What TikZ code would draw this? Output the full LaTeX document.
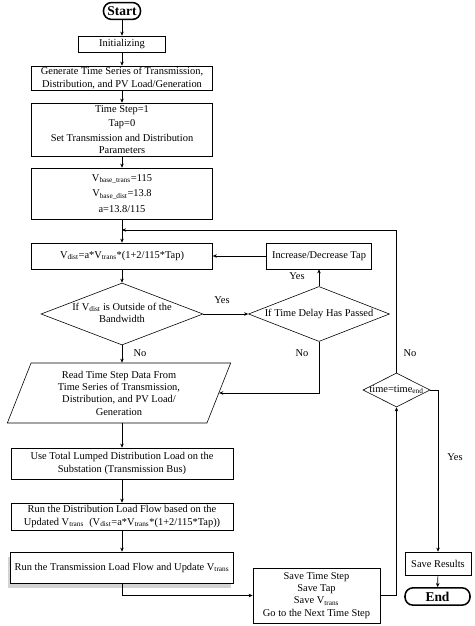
\documentclass[tikz,border=0pt]{standalone}
\usepackage{fontspec}
\setmainfont{Liberation Serif}
\usetikzlibrary{arrows.meta,shapes.geometric,shadows}

\tikzset{
  box/.style={draw,rectangle,align=center,inner sep=1pt},
  term/.style={draw,rectangle,rounded corners=0.24cm,line width=1.3pt,
    font=\fontsize{11.5}{13}\selectfont\bfseries},
  decide/.style={draw,diamond,inner sep=0pt,align=center},
  lbl/.style={inner sep=0pt},
}
\newcommand{\nowidth}[1]{\makebox[0pt]{\begin{tabular}{@{}c@{}}#1\end{tabular}}}

\begin{document}
\begin{tikzpicture}[x=0.03cm,y=-0.03cm,line width=0.5pt,
    >={Stealth[length=3.5pt,width=3pt]},font=\fontsize{8.9}{10.5}\selectfont]
  \useasboundingbox (0,0) rectangle (474,626);
  % main column
  \node[term,minimum width=1.05cm,minimum height=0.48cm] (start) at (122,11) {Start};
  \node[box,minimum width=2.61cm,minimum height=0.48cm] (init) at (122,44) {Initializing};
  \node[box,minimum width=5.43cm,minimum height=0.72cm] (gen) at (122,78)
    {Generate Time Series of Transmission,\\Distribution, and PV Load/Generation};
  \node[box,minimum width=5.43cm,minimum height=1.59cm] (tstep) at (122,129.5)
    {Time Step=1\\[2pt]Tap=0\\[2pt]Set Transmission and Distribution\\Parameters};
  \node[box,minimum width=5.43cm,minimum height=1.53cm] (vbase) at (122,193.5)
    {V\textsubscript{base\_trans}=115\\[3pt]V\textsubscript{base\_dist}=13.8\\[3pt]a=13.8/115};
  \node[box,minimum width=5.43cm,minimum height=0.78cm] (vdist) at (122,256)
    {V\textsubscript{dist}=a*V\textsubscript{trans}*(1+2/115*Tap)};
  \node[decide,minimum width=4.86cm,minimum height=1.86cm] (outside) at (122,314)
    {\nowidth{If V\textsubscript{dist} is Outside of the\\Bandwidth}};
  \node[decide,minimum width=4.23cm,minimum height=1.65cm] (delay) at (319,314)
    {\nowidth{If Time Delay Has Passed}};
  \node[box,minimum width=3.15cm,minimum height=0.78cm] (tapchg) at (319,256)
    {Increase/Decrease Tap};
  \node[draw,trapezium,trapezium left angle=63,trapezium right angle=117,
    trapezium stretches body,minimum width=6.7cm,minimum height=1.8cm,
    align=center,inner sep=1pt] (read) at (119,393)
    {Read Time Step Data From\\Time Series of Transmission,\\Distribution, and PV Load/\\Generation};
  \node[box,minimum width=6.66cm,minimum height=0.93cm] (lumped) at (122,463.5)
    {Use Total Lumped Distribution Load on the\\Substation (Transmission Bus)};
  \node[box,minimum width=6.66cm,minimum height=0.81cm] (distlf) at (122,516.5)
    {Run the Distribution Load Flow based on the\\Updated V\textsubscript{trans}\ \ (V\textsubscript{dist}=a*V\textsubscript{trans}*(1+2/115*Tap))};
  \node[box,fill=white,drop shadow={shadow xshift=-2pt,shadow yshift=-4pt,opacity=.35},
    minimum width=6.69cm,minimum height=0.93cm] (translf) at (122,567.5)
    {Run the Transmission Load Flow and Update V\textsubscript{trans}};
  % right part
  \node[box,minimum width=3.81cm,minimum height=1.65cm] (save) at (316.5,595.5)
    {Save Time Step\\Save Tap\\Save V\textsubscript{trans}\\Go to the Next Time Step};
  \node[decide,minimum width=2.01cm,minimum height=1.02cm] (tend) at (396.5,390)
    {\nowidth{time=time\textsubscript{end}}};
  \node[box,minimum width=1.98cm,minimum height=0.69cm] (results) at (438,563.5) {Save Results};
  \node[term,minimum width=1.95cm,minimum height=0.51cm] (stop) at (437.5,596.5) {End};
  \coordinate (merge) at (122,230);
  % labels
  \node[lbl] (yes1) at (222,300) {Yes};
  \node[lbl] (no1) at (140,353) {No};
  \node[lbl] (yes2) at (297,276) {Yes};
  \node[lbl] (no2) at (302,353) {No};
  \node[lbl] (no3) at (410,353) {No};
  \node[lbl] (yes3) at (455,457) {Yes};
  % connectors
  \draw[->] (start) -- (init);
  \draw[->] (init) -- (gen);
  \draw[->] (gen) -- (tstep);
  \draw[->] (tstep) -- (vbase);
  \draw[->] (vbase) -- (vdist);
  \draw[->] (vdist) -- (outside);
  \draw[->] (outside) -- (delay);
  \draw[->] (delay) -- (tapchg);
  \draw[->] (tapchg) -- (vdist);
  \draw[->] (delay.south) |- (read.east);
  \draw[->] (outside.south) -- (outside.south |- read.north);
  \draw[->] (lumped.north |- read.south) -- (lumped.north);
  \draw[->] (lumped) -- (distlf);
  \draw[->] (distlf) -- (translf);
  \draw[->] (translf.south) |- (save.west);
  \draw[->] (save.east) -| (tend.south);
  \draw[->] (tend.north) |- (merge);
  \draw[->] (tend.east) -| (results.north);
  \draw[->] (results) -- (stop);
\end{tikzpicture}
\end{document}
